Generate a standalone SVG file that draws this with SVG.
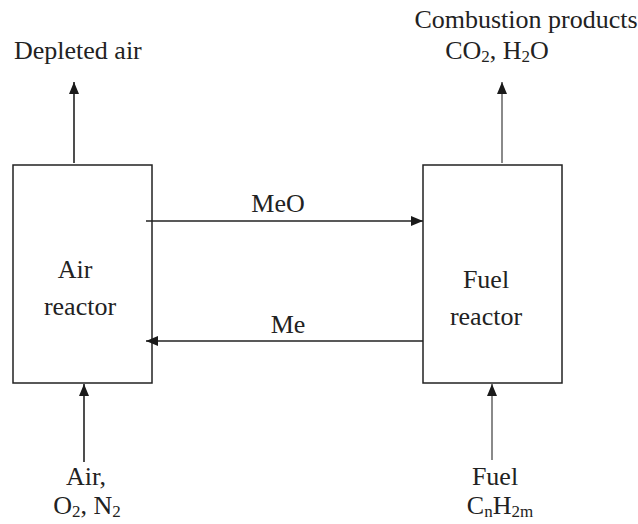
<svg xmlns="http://www.w3.org/2000/svg" width="638" height="524" viewBox="0 0 638 524">
<style>
text{font-family:"Liberation Serif","Times New Roman",serif;font-size:26px;fill:#222}
.sub{font-size:17px}
.box{fill:#fff;stroke:#222;stroke-width:1.5}
.ln{stroke:#222;stroke-width:1.6;fill:none}
.gl{stroke:#8a8a8a;stroke-width:2;fill:none}
</style>
<defs>
<marker id="ah" viewBox="0 0 12 10" refX="12" refY="5" markerWidth="12" markerHeight="10" markerUnits="userSpaceOnUse" orient="auto"><path d="M0,0L12,5L0,10Z" fill="#1a1a1a"/></marker>
</defs>
<g id="air-reactor">
<rect class="box" x="13" y="165" width="139" height="218"/>
<text x="75" y="278" text-anchor="middle">Air</text>
<text x="80" y="315" text-anchor="middle">reactor</text>
</g>
<g id="fuel-reactor">
<rect class="box" x="423" y="165" width="139" height="218"/>
<text x="486" y="288" text-anchor="middle">Fuel</text>
<text x="486" y="325" text-anchor="middle">reactor</text>
</g>
<g id="connectors">
<line class="ln" x1="74" y1="163" x2="74" y2="82" marker-end="url(#ah)"/>
<line class="gl" x1="502" y1="163" x2="502" y2="82" marker-end="url(#ah)"/>
<line class="ln" x1="146" y1="221" x2="423" y2="221" marker-end="url(#ah)"/>
<line class="ln" x1="423" y1="341" x2="146" y2="341" marker-end="url(#ah)"/>
<line class="ln" x1="84" y1="462" x2="84" y2="384" marker-end="url(#ah)"/>
<line class="gl" x1="492" y1="460" x2="492" y2="384" marker-end="url(#ah)"/>
</g>
<g id="labels">
<text x="14" y="59">Depleted air</text>
<text x="526" y="28" text-anchor="middle">Combustion products</text>
<text x="497" y="59" text-anchor="middle">CO<tspan class="sub" dy="3">2</tspan><tspan dy="-3">, H</tspan><tspan class="sub" dy="3">2</tspan><tspan dy="-3">O</tspan></text>
<text x="278" y="212" text-anchor="middle">MeO</text>
<text x="288" y="333" text-anchor="middle">Me</text>
<text x="86" y="485" text-anchor="middle">Air,</text>
<text x="87" y="514" text-anchor="middle">O<tspan class="sub" dy="3">2</tspan><tspan dy="-3">, N</tspan><tspan class="sub" dy="3">2</tspan></text>
<text x="495" y="485" text-anchor="middle">Fuel</text>
<text x="500" y="514" text-anchor="middle">C<tspan class="sub" dy="3">n</tspan><tspan dy="-3">H</tspan><tspan class="sub" dy="3">2m</tspan></text>
</g>
</svg>
